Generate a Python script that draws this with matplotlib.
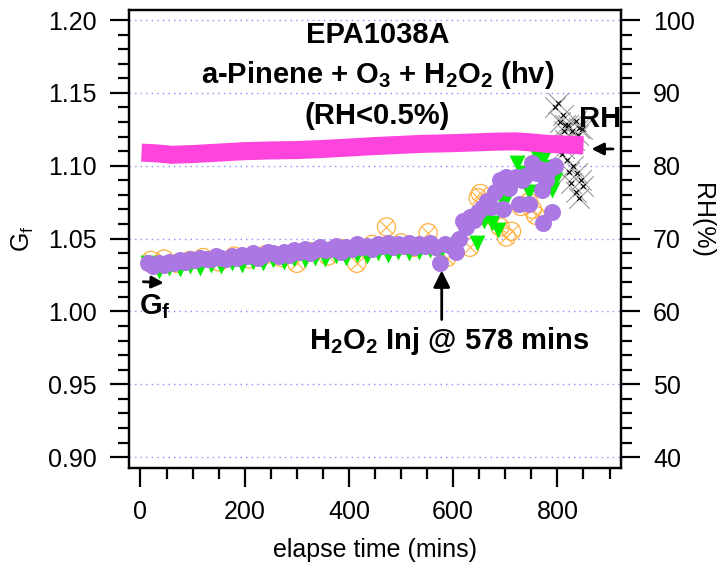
import matplotlib
matplotlib.use("Agg")
import matplotlib.pyplot as plt
from matplotlib.ticker import MultipleLocator

plt.rcParams['font.family'] = ['Liberation Sans', 'DejaVu Sans']
plt.rcParams['mathtext.fontset'] = 'custom'
plt.rcParams['mathtext.rm'] = 'Liberation Sans'
plt.rcParams['mathtext.bf'] = 'Liberation Sans:bold'

# RH (%) - right axis, thick magenta trace
rh_time = [2, 30, 60, 100, 150, 200, 250, 300, 350, 400, 450, 480, 540, 600, 640, 680, 720, 750, 780, 815, 850]
rh_val = [81.8, 81.7, 81.5, 81.6, 81.8, 82.0, 82.1, 82.15, 82.3, 82.5, 82.7, 82.8, 83.0, 83.1, 83.2, 83.3, 83.35, 83.2, 83.0, 82.9, 82.8]

# Gf - purple filled circles
gf_time = [15, 25, 35, 45, 55, 65, 75, 85, 95, 105, 115, 125, 135, 145, 155, 165, 175, 185, 195, 205,
           215, 225, 235, 245, 255, 265, 275, 285, 295, 305, 315, 325, 335, 345, 355, 365, 375, 385, 395, 405,
           415, 425, 435, 445, 455, 465, 475, 485, 495, 505, 515, 525, 535, 545, 555, 565, 575, 585, 595, 605,
           612, 618, 625, 632, 640, 648, 656, 664, 672, 680, 689, 696, 702, 708, 714, 720, 727, 732, 738, 746,
           752, 760, 766, 770, 772, 778, 784, 790, 795]
gf_val = [1.033, 1.031, 1.033, 1.032, 1.034, 1.033, 1.035, 1.034, 1.036, 1.035, 1.037, 1.036, 1.036, 1.038, 1.037, 1.036, 1.038, 1.037, 1.039, 1.038,
          1.040, 1.037, 1.039, 1.041, 1.040, 1.038, 1.041, 1.039, 1.042, 1.041, 1.043, 1.040, 1.042, 1.044, 1.042, 1.043, 1.045, 1.041, 1.044, 1.043,
          1.046, 1.044, 1.045, 1.043, 1.046, 1.045, 1.047, 1.044, 1.046, 1.045, 1.047, 1.044, 1.046, 1.045, 1.047, 1.044, 1.033, 1.046, 1.045, 1.041,
          1.050, 1.062, 1.058, 1.065, 1.063, 1.068, 1.071, 1.076, 1.072, 1.082, 1.090, 1.070, 1.092, 1.085, 1.091, 1.092, 1.074, 1.090, 1.093, 1.074,
          1.102, 1.095, 1.098, 1.083, 1.061, 1.090, 1.097, 1.068, 1.100]

# Gf - green down triangles
green_time = [15, 35, 55, 75, 95, 115, 135, 155, 175, 195, 215, 235, 255, 275, 295, 315, 335, 355, 375, 395,
              415, 435, 455, 475, 495, 515, 535, 555, 575, 595, 610, 625, 646, 660, 675, 686, 695, 705, 715, 723,
              735, 745, 752, 761, 770, 780, 789, 789, 795]
green_val = [1.033, 1.028, 1.030, 1.029, 1.031, 1.030, 1.032, 1.031, 1.033, 1.032, 1.034, 1.033, 1.035, 1.034, 1.036, 1.035, 1.037, 1.036, 1.038, 1.037,
             1.039, 1.038, 1.040, 1.039, 1.041, 1.040, 1.041, 1.042, 1.040, 1.042, 1.046, 1.058, 1.047, 1.062, 1.061, 1.056, 1.075, 1.080, 1.085, 1.102,
             1.095, 1.082, 1.100, 1.107, 1.104, 1.110, 1.099, 1.083, 1.090]

# Gf - orange open circles with cross
orange_time = [20, 45, 70, 95, 120, 150, 180, 210, 240, 270, 300, 330, 360, 390, 415, 445, 472, 500, 525, 552,
               588, 632, 648, 652, 672, 690, 702, 712, 730, 745, 752, 758]
orange_val = [1.035, 1.036, 1.033, 1.035, 1.037, 1.034, 1.038, 1.036, 1.039, 1.037, 1.033, 1.041, 1.038, 1.043, 1.033, 1.046, 1.058, 1.047, 1.044, 1.054,
              1.037, 1.044, 1.078, 1.081, 1.066, 1.058, 1.051, 1.055, 1.072, 1.075, 1.070, 1.066]

# Gf - grey crosses at the end of the run
cross_time = [795, 802, 810, 815, 805, 812, 820, 828, 835, 842, 815, 825, 832, 840, 848, 808, 818, 830, 838, 845,
              826, 835, 842, 850, 822, 812]
cross_val = [1.140, 1.143, 1.135, 1.128, 1.130, 1.124, 1.128, 1.124, 1.131, 1.126, 1.118, 1.115, 1.118, 1.121, 1.125, 1.108, 1.104, 1.100, 1.095, 1.090,
             1.088, 1.082, 1.078, 1.086, 1.096, 1.112]

fig = plt.figure(figsize=(7.27, 5.64), dpi=100)
ax = fig.add_axes([129 / 727, 1 - 468 / 564, (621 - 129) / 727, (468 - 10) / 564])
ax2 = ax.twinx()

# gridlines at the major Gf ticks
ax.yaxis.grid(True, color='#8a8aff', linestyle=(0, (1, 3)), linewidth=1)
ax.set_axisbelow(True)

ax.scatter(cross_time, cross_val, marker='x', s=220, color='#999999', linewidths=0.8, zorder=2)
ax.scatter(cross_time, cross_val, marker='x', s=12, color='black', linewidths=0.8, zorder=2)
ax.scatter(orange_time, orange_val, marker='o', s=170, facecolors='none', edgecolors='#ffb040', linewidths=0.9, zorder=3)
ax.scatter(orange_time, orange_val, marker='x', s=90, color='#ffb040', linewidths=0.8, zorder=3)
ax.scatter(green_time, green_val, marker='v', s=130, color='#00ee00', linewidths=0, zorder=4)
ax.scatter(gf_time, gf_val, marker='o', s=150, color='#aa77e3', linewidths=0, zorder=5)

ax2.plot(rh_time, rh_val, color='#ff44dd', linewidth=13, solid_capstyle='butt')

ax.set_xlim(-22, 922)
ax.set_ylim(0.8925, 1.2069)
ax2.set_ylim(38.5, 101.38)

ax.xaxis.set_major_locator(MultipleLocator(200))
ax.xaxis.set_minor_locator(MultipleLocator(50))
ax.yaxis.set_major_locator(MultipleLocator(0.05))
ax.yaxis.set_minor_locator(MultipleLocator(0.01))
ax2.yaxis.set_major_locator(MultipleLocator(10))
ax2.yaxis.set_minor_locator(MultipleLocator(2))
ax.yaxis.set_major_formatter(plt.FormatStrFormatter('%.2f'))

for a in (ax, ax2):
    for s in a.spines.values():
        s.set_linewidth(1.6)
    a.tick_params(which='major', direction='out', length=14, width=1.6, labelsize=18, pad=9)
    a.tick_params(which='minor', direction='out', length=8, width=1.6)
ax.tick_params(axis='x', which='both', top=False)
ax.tick_params(axis='y', which='both', right=False)

ax.set_xlabel('elapse time (mins)', fontsize=18, labelpad=10)
ax.set_ylabel(r'G$_\mathrm{f}$', fontsize=18)
ax.yaxis.set_label_coords(-0.19, 0.5)
ax2.set_ylabel('RH(%)', fontsize=18, rotation=270)
ax2.yaxis.set_label_coords(1.19, 0.54)

# title lines inside the plot
ax.text(0.505, 0.945, 'EPA1038A', transform=ax.transAxes, ha='center', va='center',
        fontsize=21, fontweight='bold')
ax.text(0.505, 0.858, r'a-Pinene + O$_\mathbf{3}$ + H$_\mathbf{2}$O$_\mathbf{2}$ (hv)', transform=ax.transAxes,
        ha='center', va='center', fontsize=21, fontweight='bold')
ax.text(0.505, 0.768, '(RH<0.5%)', transform=ax.transAxes, ha='center', va='center',
        fontsize=21, fontweight='bold')

# annotations
ax2.annotate('', xy=(578, 66.0), xytext=(578, 58.5),
             arrowprops=dict(arrowstyle='-|>', color='black', lw=2, mutation_scale=25))
ax.text(592, 0.980, r'H$_\mathbf{2}$O$_\mathbf{2}$ Inj @ 578 mins', ha='center', va='center',
        fontsize=21, fontweight='bold')
ax.annotate('', xy=(50, 1.0195), xytext=(0, 1.0205),
            arrowprops=dict(arrowstyle='-|>', color='black', lw=2, mutation_scale=18))
ax.text(-3, 1.003, r'G$_\mathbf{f}$', ha='left', va='center', fontsize=21, fontweight='bold')
ax2.annotate('', xy=(860, 82.3), xytext=(912, 82.3),
             arrowprops=dict(arrowstyle='-|>', color='black', lw=2, mutation_scale=18))
ax2.text(922, 86.4, 'RH', ha='right', va='center', fontsize=21, fontweight='bold')

fig.savefig('out.png', dpi=100)
